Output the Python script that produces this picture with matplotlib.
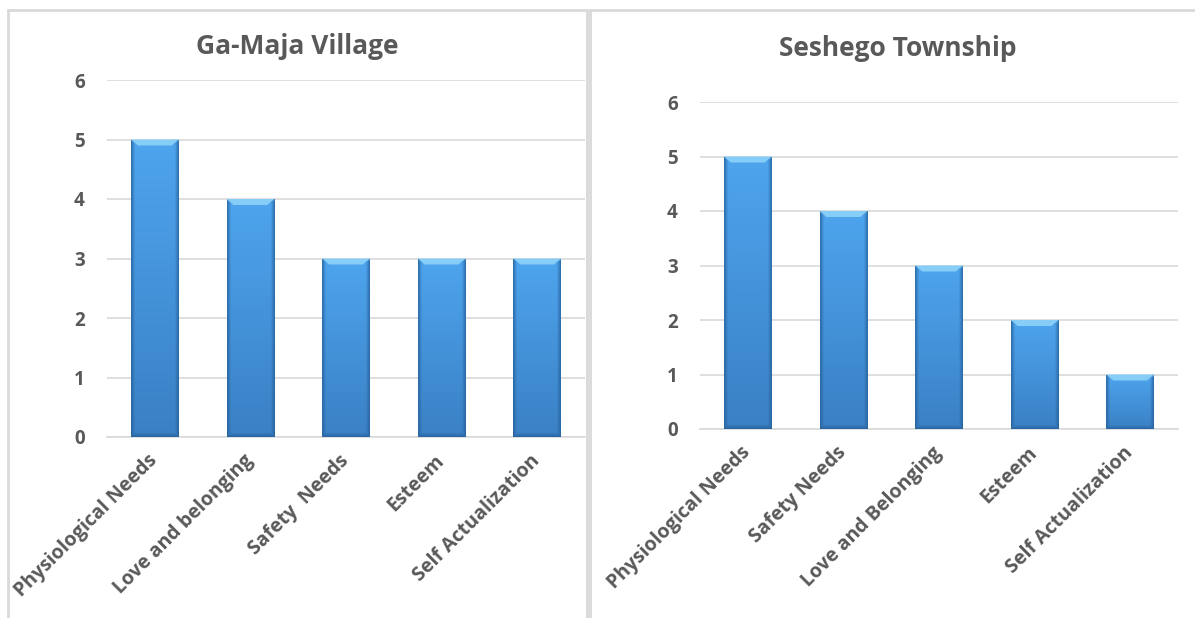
import numpy as np
import matplotlib
matplotlib.use("Agg")
import matplotlib.pyplot as plt
from matplotlib.colors import to_rgb
from matplotlib.patches import Rectangle, Polygon

# Survey results: number of mentions per need, for each community
ga_maja_title = "Ga-Maja Village"
ga_maja_categories = ["Physiological Needs", "Love and belonging", "Safety  Needs",
                      "Esteem", "Self Actualization"]
ga_maja_values = [5, 4, 3, 3, 3]

seshego_title = "Seshego Township"
seshego_categories = ["Physiological Needs", "Safety Needs", "Love and Belonging",
                      "Esteem", "Self Actualization"]
seshego_values = [5, 4, 3, 2, 1]

y_ticks = [0, 1, 2, 3, 4, 5, 6]

W, H = 1195, 618
TEXT = "#595959"
GRID = "#d9d9d9"
FONT = ["Open Sans", "DejaVu Sans"]

plt.rcParams["font.family"] = FONT

fig = plt.figure(figsize=(W / 100, H / 100), dpi=100)
fig.patch.set_facecolor("white")

# panel frames (pixel columns of each chart's border)
frames = [(8, 587), (590, 1205)]
for x0, x1 in frames:
    fig.patches.append(Rectangle((x0 / W, -0.05), (x1 - x0) / W, 1 - 10 / H + 0.05,
                                 transform=fig.transFigure, facecolor="none",
                                 edgecolor=GRID, linewidth=2, zorder=0))


def px_axes(left, right, top, bottom):
    return fig.add_axes([left / W, 1 - bottom / H, (right - left) / W, (bottom - top) / H])


def bevel_bar(ax, patch, px_per_unit, px_per_x):
    x, y = patch.get_x(), patch.get_y()
    w, h = patch.get_width(), patch.get_height()
    if h <= 0:
        return
    nx, ny = 120, 240
    u = np.linspace(0, 1, nx)
    v = np.linspace(0, 1, ny)[:, None]  # 0 = bottom, 1 = top
    top_c = np.array(to_rgb("#4ea5ee"))
    bot_c = np.array(to_rgb("#3a80c4"))
    base = bot_c + (top_c - bot_c) * v[..., None]
    base = np.broadcast_to(base, (ny, nx, 3)).copy()
    wpx = w * px_per_x
    hpx = h * px_per_unit
    edge = 4.0 / wpx
    dl = np.clip(1 - u / edge, 0, 1)
    dr = np.clip(1 - (1 - u) / edge, 0, 1)
    side = np.maximum(dl, dr)[None, :]
    bottom = np.clip(1 - v / (4.0 / hpx), 0, 1)
    shade = np.maximum(side, bottom)
    dark = np.array(to_rgb("#255f99"))
    img = base * (1 - 0.8 * shade[..., None]) + dark * 0.8 * shade[..., None]
    im = ax.imshow(img[::-1], extent=(x, x + w, y, y + h), origin="upper",
                   aspect="auto", interpolation="bilinear", zorder=3)
    im.set_clip_path(patch)
    # light bevel along the top edge
    bh = 6.0 / px_per_unit
    inset = 7.0 / px_per_x
    top = y + h
    ax.add_patch(Polygon([(x, top), (x + w, top), (x + w - inset, top - bh),
                          (x + inset, top - bh)], closed=True,
                         facecolor="#86cdf7", edgecolor="none", zorder=4))
    ax.add_patch(Polygon([(x + w - inset, top - bh), (x + w, top), (x + w, top - bh * 0.2)],
                         closed=True, facecolor="#5aa7e0", edgecolor="none", zorder=4))


def panel(ax, title, cats, vals, frame, title_y):
    xs = np.arange(len(cats))
    bars = ax.bar(xs, vals, width=0.5, color="#3f8fd6", zorder=2)
    ax.set_xlim(-0.5, len(cats) - 0.5)
    ax.set_ylim(0, 6)
    ax.set_yticks(y_ticks)
    ax.set_yticklabels([str(t) for t in y_ticks], fontsize=13.5, fontweight="bold", color=TEXT)
    ax.set_xticks(xs)
    ax.set_xticklabels(cats, rotation=45, ha="right", va="center", rotation_mode="anchor",
                       fontsize=14, fontweight="bold", color=TEXT)
    ax.tick_params(axis="y", length=0, pad=16)
    ax.tick_params(axis="x", length=0, pad=15)
    ax.grid(axis="y", color=GRID, linewidth=1.2, zorder=0)
    ax.set_axisbelow(True)
    for s in ["top", "right", "left"]:
        ax.spines[s].set_visible(False)
    ax.spines["bottom"].set_color(GRID)
    ax.spines["bottom"].set_linewidth(1.2)
    ax.set_facecolor("none")
    bbox = ax.get_position()
    px_per_unit = bbox.height * H / 6
    px_per_x = bbox.width * W / len(cats)
    for p in bars.patches:
        bevel_bar(ax, p, px_per_unit, px_per_x)
    cx = (frame[0] + frame[1]) / 2 / W
    fig.text(cx, 1 - title_y / H, title, ha="center", va="center",
             fontsize=19, fontweight="bold", color=TEXT)


ax1 = px_axes(107, 585, 80, 437)
panel(ax1, ga_maja_title, ga_maja_categories, ga_maja_values, frames[0], 47)

ax2 = px_axes(700, 1178, 102, 429)
panel(ax2, seshego_title, seshego_categories, seshego_values, frames[1], 49)

fig.savefig("out.png", dpi=100, facecolor="white")
